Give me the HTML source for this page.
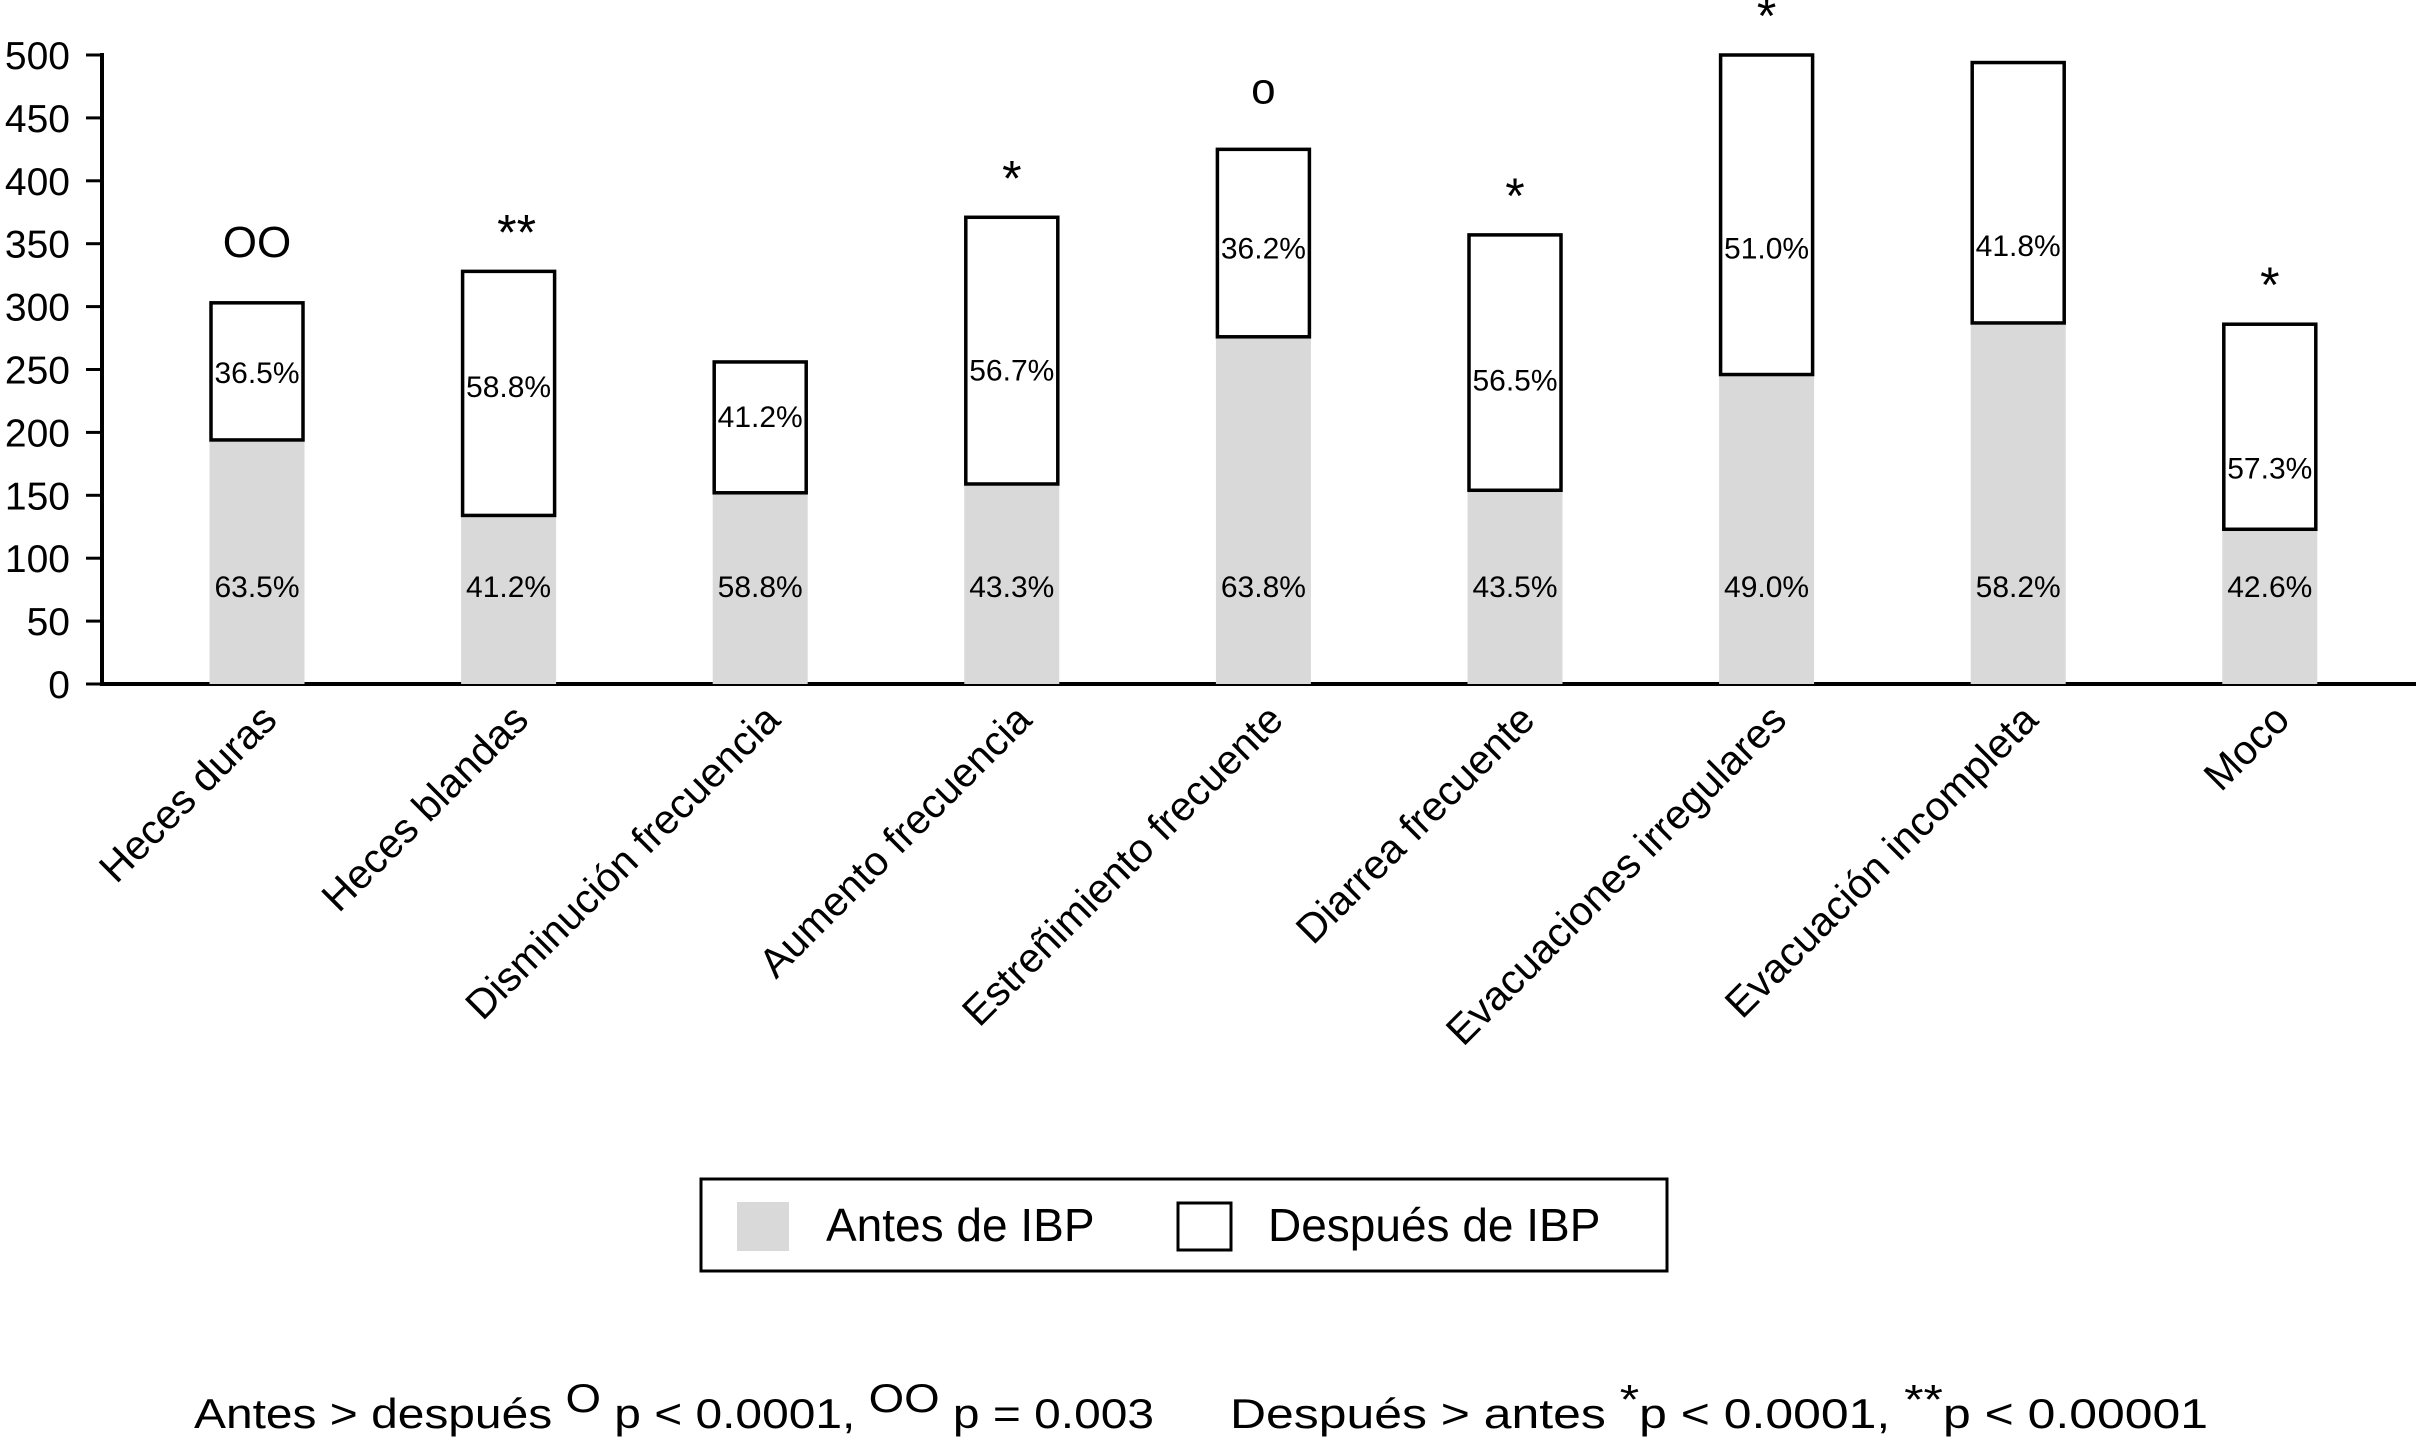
<!DOCTYPE html>
<html><head><meta charset="utf-8"><style>
html,body{margin:0;padding:0;background:#fff}
svg{display:block;font-family:"Liberation Sans",sans-serif}
</style></head><body>
<svg id="chart" width="2416" height="1440" viewBox="0 0 2416 1440" xmlns="http://www.w3.org/2000/svg">
<g id="axes"></g>
<g id="bars"></g>
<g id="cats"></g>
<g>
 <rect x="701" y="1179" width="966" height="92" fill="#fff" stroke="#000" stroke-width="3"/>
 <rect x="737" y="1202" width="52" height="49" fill="#d9d9d9"/>
 <text x="826" y="1241" font-size="46">Antes de IBP</text>
 <rect x="1178" y="1203" width="53" height="47" fill="#fff" stroke="#000" stroke-width="3"/>
 <text x="1268" y="1241" font-size="46">Después de IBP</text>
</g>
<text x="194" y="1428" font-size="42" textLength="960" lengthAdjust="spacingAndGlyphs">Antes &gt; después <tspan dy="-16" font-size="40">O</tspan><tspan dy="16"> p &lt; 0.0001, </tspan><tspan dy="-16" font-size="40">OO</tspan><tspan dy="16"> p = 0.003</tspan></text>
<text x="1230" y="1428" font-size="42" textLength="978" lengthAdjust="spacingAndGlyphs">Después &gt; antes <tspan dy="-14">*</tspan><tspan dy="14">p &lt; 0.0001, </tspan><tspan dy="-14">**</tspan><tspan dy="14">p &lt; 0.00001</tspan></text>
</svg>
<script>
const categories=["Heces duras","Heces blandas","Disminución frecuencia","Aumento frecuencia","Estreñimiento frecuente","Diarrea frecuente","Evacuaciones irregulares","Evacuación incompleta","Moco"];
const antes=[194,134,152,159,276,154,246,287,123];
const despues=[109,194,104,212,149,203,254,207,163];
const antesPct=["63.5%","41.2%","58.8%","43.3%","63.8%","43.5%","49.0%","58.2%","42.6%"];
const despuesPct=["36.5%","58.8%","41.2%","56.7%","36.2%","56.5%","51.0%","41.8%","57.3%"];
const despuesLabelAt=[248,237,213,250,347,242,347,349,172];
const marks=["OO","**","","*","o","*","*","","*"];
const yTicks=[0,50,100,150,200,250,300,350,400,450,500];
const NS="http://www.w3.org/2000/svg";
const X0=102,Y0=684,PPU=629/500,BW=95;
const y=v=>Y0-v*PPU;
const xc=i=>257+i*251.6;
function mk(p,t,a){const e=document.createElementNS(NS,t);for(const k in a)e.setAttribute(k,a[k]);p.appendChild(e);return e;}
const axes=document.getElementById('axes'),bars=document.getElementById('bars'),cats=document.getElementById('cats');
let l=mk(axes,'line',{x1:X0,y1:y(500)-2,x2:X0,y2:Y0+2,stroke:'#000','stroke-width':4});


l=mk(axes,'line',{x1:X0-2,y1:Y0,x2:2416,y2:Y0,stroke:'#000','stroke-width':4});


yTicks.forEach(t=>{
 const tk=mk(axes,'line',{x1:X0-16,y1:y(t),x2:X0,y2:y(t),stroke:'#000','stroke-width':3});
 
 
 const tx=mk(axes,'text',{x:X0-32,y:y(t)+14,'font-size':39,'text-anchor':'end'});
 tx.textContent=t;
 
 
});
categories.forEach((c,i)=>{
 const cx=xc(i);
 const r1=mk(bars,'rect',{x:cx-BW/2,y:y(antes[i]),width:BW,height:antes[i]*PPU,fill:'#d9d9d9'});
 
 
 const top=antes[i]+despues[i];
 const r2=mk(bars,'rect',{x:cx-BW/2+1.5,y:y(top),width:BW-3,height:despues[i]*PPU,fill:'#fff',stroke:'#000','stroke-width':3.5});
 
 
 const t1=mk(bars,'text',{x:cx,y:597,'font-size':30,'text-anchor':'middle'});
 t1.textContent=antesPct[i];
 
 
 const t2=mk(bars,'text',{x:cx,y:y(despuesLabelAt[i])+11,'font-size':30,'text-anchor':'middle'});
 t2.textContent=despuesPct[i];
 
 
 if(marks[i]){
  const isO=marks[i].toLowerCase().startsWith('o');
  const m=mk(bars,'text',{x:cx+(marks[i]=='**'?8:0),y:y(top)+(isO?-46:-22),'font-size':isO?44:50,'text-anchor':'middle'});
  m.textContent=marks[i];
  
  
 }
 const ct=mk(cats,'text',{x:cx+22,y:722,'font-size':41,'text-anchor':'end',transform:`rotate(-45 ${cx+22} 722)`});
 ct.textContent=c;
 
 
});
</script>
</body></html>
